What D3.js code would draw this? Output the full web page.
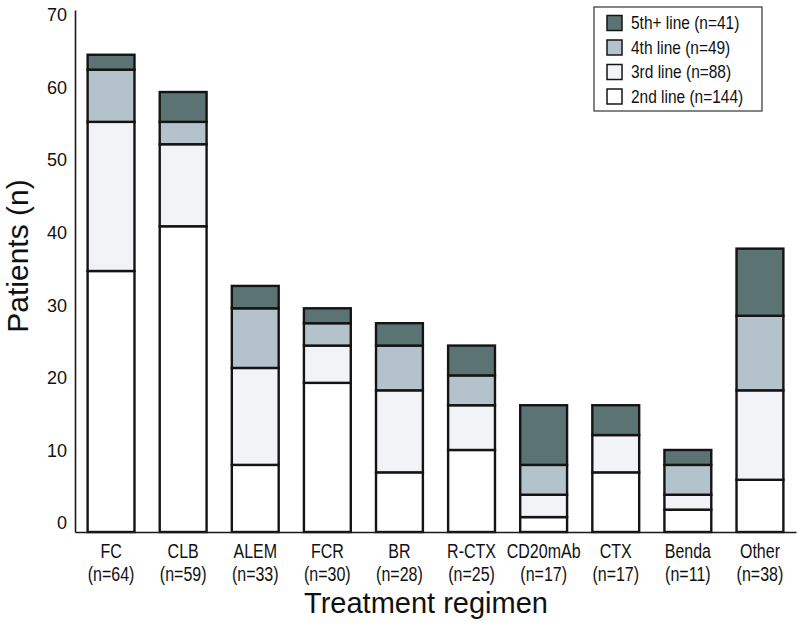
<!DOCTYPE html>
<html>
<head>
<meta charset="utf-8">
<script src="https://cdn.jsdelivr.net/npm/d3@7"></script>
<style>
  html, body { margin: 0; padding: 0; background: #fff; }
  svg { display: block; }
  text { font-family: "Liberation Sans", Arial, sans-serif; }
</style>
</head>
<body>
<svg id="chart" width="799" height="629"></svg>
<script>
const categories = ["FC", "CLB", "ALEM", "FCR", "BR", "R-CTX", "CD20mAb", "CTX", "Benda", "Other"];
const categoryN = [64, 59, 33, 30, 28, 25, 17, 17, 11, 38];
const line2nd = [35, 41, 9, 20, 8, 11, 2, 8, 3, 7];
const line3rd = [20, 11, 13, 5, 11, 6, 3, 5, 2, 12];
const line4th = [7, 3, 8, 3, 6, 4, 4, 0, 4, 10];
const line5th = [2, 4, 3, 2, 3, 4, 8, 4, 2, 9];
const seriesKeys = ["l2", "l3", "l4", "l5"];
const seriesLabels = ["2nd line (n=144)", "3rd line (n=88)", "4th line (n=49)", "5th+ line (n=41)"];
const seriesColors = ["#ffffff", "#f2f3f7", "#b4c3cb", "#5b7373"];
const yTicks = [0, 10, 20, 30, 40, 50, 60, 70];
const yTitle = "Patients (n)";
const xTitle = "Treatment regimen";

const svg = d3.select("#chart");

const rows = categories.map((c, i) => ({
  cat: c, n: categoryN[i],
  l2: line2nd[i], l3: line3rd[i], l4: line4th[i], l5: line5th[i]
}));

const x = d3.scaleBand().domain(categories).range([75, 796])
  .paddingInner(0.35).paddingOuter(0.175);
const y = d3.scaleLinear().domain([0, 70]).range([532, 10]);
// tick labels in the original sit on a slightly compressed scale
const yLab = d3.scaleLinear().domain([0, 70]).range([523, 15]);

const stack = d3.stack().keys(seriesKeys)(rows);

// bars
const g = svg.append("g");
stack.forEach((layer, li) => {
  g.selectAll(null).data(layer).enter().append("rect")
    .attr("x", d => x(d.data.cat))
    .attr("width", x.bandwidth())
    .attr("y", d => y(d[1]))
    .attr("height", d => y(d[0]) - y(d[1]))
    .attr("fill", seriesColors[li])
    .attr("stroke", "#141414")
    .attr("stroke-width", 2.4);
});

// y axis line
svg.append("g").attr("transform", "translate(75,0)")
  .call(d3.axisLeft(y).tickValues([]).tickSizeOuter(0))
  .call(s => s.select(".domain").attr("stroke", "#1a1a1a").attr("stroke-width", 1.6));

// y tick labels
svg.append("g").attr("transform", "translate(75,0)")
  .call(d3.axisLeft(yLab).tickValues(yTicks).tickSize(0).tickPadding(8))
  .call(s => s.select(".domain").remove())
  .call(s => s.selectAll("text").attr("font-family", "Liberation Sans, Arial, sans-serif")
    .attr("font-size", 18).attr("fill", "#111"));

// x axis
const xAxis = svg.append("g").attr("transform", "translate(0,532)")
  .call(d3.axisBottom(x).tickSize(0).tickSizeOuter(0).tickFormat(""));
xAxis.select(".domain").attr("stroke", "#1a1a1a").attr("stroke-width", 1.6);
xAxis.selectAll(".tick text").remove();
xAxis.selectAll(".tick").each(function(d, i) {
  const t = d3.select(this).append("text")
    .attr("transform", "scale(0.8,1)")
    .attr("text-anchor", "middle")
    .attr("font-size", 20)
    .attr("fill", "#111");
  t.append("tspan").attr("x", 0).attr("y", 26).text(d);
  t.append("tspan").attr("x", 0).attr("y", 49).text("(n=" + categoryN[i] + ")");
});

// axis titles
svg.append("text")
  .attr("transform", "translate(28,256) rotate(-90)")
  .attr("text-anchor", "middle").attr("font-size", 30).attr("fill", "#111")
  .text(yTitle);
svg.append("text")
  .attr("x", 426).attr("y", 613)
  .attr("text-anchor", "middle").attr("font-size", 29).attr("fill", "#111")
  .text(xTitle);

// legend
const lg = svg.append("g");
lg.append("rect").attr("x", 594).attr("y", 7).attr("width", 168).attr("height", 104)
  .attr("fill", "#fff").attr("stroke", "#333").attr("stroke-width", 1.2);
const legendOrder = [3, 2, 1, 0];
legendOrder.forEach((si, k) => {
  const cy = 23 + k * 24.5;
  lg.append("rect").attr("x", 607).attr("y", cy - 7.5).attr("width", 15).attr("height", 15)
    .attr("fill", seriesColors[si]).attr("stroke", "#141414").attr("stroke-width", 1.5);
  lg.append("text")
    .attr("transform", `translate(631,${cy}) scale(0.86,1)`)
    .attr("dy", "0.36em")
    .attr("font-size", 18).attr("fill", "#111")
    .text(seriesLabels[si]);
});
</script>
</body>
</html>
